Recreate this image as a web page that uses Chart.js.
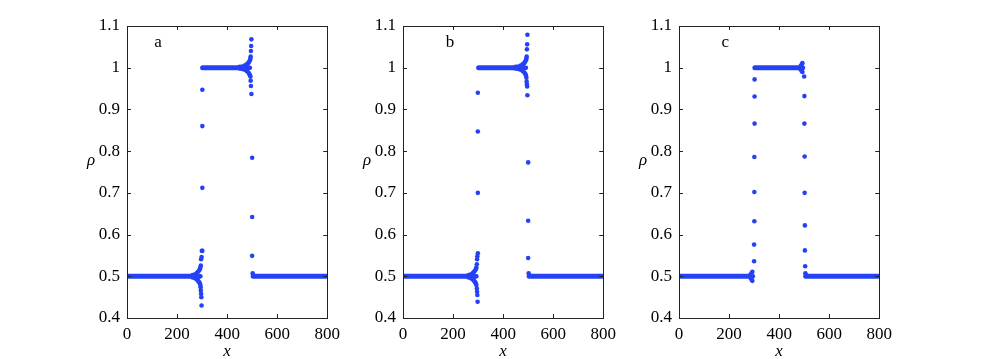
<!DOCTYPE html>
<html>
<head>
<meta charset="utf-8">
<script src="https://cdn.jsdelivr.net/npm/chart.js@4.4.1/dist/chart.umd.min.js"></script>
<style>
  html, body { margin: 0; padding: 0; background: #fff; }
  #wrap { position: relative; width: 981px; height: 359px; overflow: hidden; }
  canvas { position: absolute; top: 0; }
  #preload { position: absolute; left: -999px; font-family: 'Liberation Serif'; font-size: 17px; }
</style>
</head>
<body>
<div id="wrap">
  <canvas id="pa" width="277" height="359" style="left:69px"></canvas>
  <canvas id="pb" width="277" height="359" style="left:345px"></canvas>
  <canvas id="pc" width="277" height="359" style="left:621px"></canvas>
</div>
<div id="preload">0.9 <i>x ρ</i> abc</div>
<script>
// --- dados ---
const xTicks = [0, 200, 400, 600, 800];
const yTicks = [0.4, 0.5, 0.6, 0.7, 0.8, 0.9, 1.0, 1.1];
const panelLetters = ["a", "b", "c"];

// patamares [x inicial, x final, rho]
const aBands = [[0, 286, 0.5], [302, 470, 1.0], [504, 800, 0.5]];
const bBands = [[0, 286, 0.5], [302, 470, 1.0], [504, 800, 0.5]];
const cBands = [[0, 290, 0.5], [303, 492, 1.0], [506, 800, 0.5]];

// pontos soltos (leque, transicoes)
const aX = [262, 272, 279, 284, 288, 291, 293, 262, 272, 279, 284, 288, 291, 293, 286, 290, 293,
  295, 296, 298, 299, 294, 295, 296, 297, 298,
  301, 301, 301, 301,
  450, 460, 470, 478, 484, 488, 491, 450, 460, 470, 478, 484, 488, 491, 482, 487, 491,
  493, 494, 495, 496, 497, 493, 494, 495, 497,
  500, 500, 500, 502];
const aY = [0.503, 0.505, 0.508, 0.511, 0.514, 0.517, 0.521, 0.497, 0.495, 0.492, 0.489, 0.486, 0.483, 0.479, 0.5, 0.5, 0.5,
  0.526, 0.541, 0.546, 0.561, 0.474, 0.466, 0.458, 0.45, 0.43,
  0.947, 0.860, 0.712, 0.561,
  1.002, 1.003, 1.005, 1.008, 1.011, 1.014, 1.018, 0.998, 0.997, 0.995, 0.992, 0.989, 0.986, 0.982, 1.0, 1.0, 1.0,
  1.022, 1.027, 1.040, 1.052, 1.068, 0.979, 0.969, 0.956, 0.937,
  0.784, 0.642, 0.549, 0.507];

const bX = [262, 272, 279, 284, 288, 291, 293, 262, 272, 279, 284, 288, 291, 293, 286, 290, 293,
  295, 296, 297, 299, 295, 296, 297, 298,
  299, 299, 299,
  450, 460, 470, 478, 484, 488, 491, 450, 460, 470, 478, 484, 488, 491, 482, 487, 491,
  493, 494, 495, 496, 497, 493, 494, 495, 496, 497,
  500, 500, 500, 502];
const bY = [0.503, 0.505, 0.508, 0.511, 0.514, 0.517, 0.521, 0.497, 0.495, 0.492, 0.489, 0.486, 0.483, 0.479, 0.5, 0.5, 0.5,
  0.529, 0.541, 0.548, 0.555, 0.471, 0.463, 0.455, 0.439,
  0.940, 0.847, 0.700,
  1.002, 1.003, 1.005, 1.008, 1.011, 1.014, 1.018, 0.998, 0.997, 0.995, 0.992, 0.989, 0.986, 0.982, 1.0, 1.0, 1.0,
  1.022, 1.027, 1.044, 1.056, 1.079, 0.976, 0.967, 0.960, 0.955, 0.934,
  0.773, 0.633, 0.544, 0.507];

const cX = [286, 290, 293, 286, 290, 293, 295,
  300, 300, 301, 301, 301, 302, 302, 302,
  486, 490, 493, 486, 490, 493, 495,
  500, 501, 501, 502, 502, 503, 503, 504, 505];
const cY = [0.504, 0.508, 0.511, 0.496, 0.492, 0.489, 0.5,
  0.536, 0.576, 0.632, 0.702, 0.786, 0.866, 0.931, 0.972,
  1.004, 1.008, 1.011, 0.996, 0.992, 0.99, 1.0,
  0.979, 0.932, 0.866, 0.787, 0.700, 0.622, 0.562, 0.524, 0.507];

const letterX = [124, 188, 185];
const letterY = 1.06;

const blue = "#2541f5";
const serif = "'Liberation Serif', 'Times New Roman', serif";
Chart.defaults.font.family = serif;

function fmt(v) {
  return String(parseFloat(Number(v).toFixed(1)));
}

// caixa estilo MATLAB com ticks para dentro + textos
const boxPlugin = {
  id: "boxPlugin",
  afterDraw(chart, args, opts) {
    const { ctx, chartArea: a, scales } = chart;
    ctx.save();
    ctx.strokeStyle = "#222";
    ctx.lineWidth = 1;
    ctx.strokeRect(Math.round(a.left) + 0.5, Math.round(a.top) + 0.5, Math.round(a.right - a.left), Math.round(a.bottom - a.top));
    const t = 4;
    ctx.beginPath();
    xTicks.forEach(v => {
      const px = Math.round(scales.x.getPixelForValue(v)) + 0.5;
      ctx.moveTo(px, a.bottom); ctx.lineTo(px, a.bottom - t);
      ctx.moveTo(px, a.top); ctx.lineTo(px, a.top + t);
    });
    yTicks.forEach(v => {
      const py = Math.round(scales.y.getPixelForValue(v)) + 0.5;
      ctx.moveTo(a.left, py); ctx.lineTo(a.left + t, py);
      ctx.moveTo(a.right, py); ctx.lineTo(a.right - t, py);
    });
    ctx.stroke();

    ctx.fillStyle = "#000";
    ctx.font = "17px " + serif;
    ctx.textAlign = "center";
    ctx.textBaseline = "middle";
    ctx.fillText(opts.letter, scales.x.getPixelForValue(opts.lx), scales.y.getPixelForValue(letterY));

    ctx.font = "italic 17px " + serif;
    ctx.textBaseline = "alphabetic";
    ctx.fillText("x", (a.left + a.right) / 2, 356);
    ctx.fillText("\u03c1", a.left - 36, 165);
    ctx.restore();
  }
};

function makePanel(id, bands, xs, ys, idx) {
  const datasets = bands.map(b => ({
    type: "line",
    data: [{ x: b[0], y: b[2] }, { x: b[1], y: b[2] }],
    borderColor: blue,
    borderWidth: 5,
    borderCapStyle: "round",
    pointRadius: 0
  }));
  datasets.push({
    type: "scatter",
    data: xs.map((x, i) => ({ x, y: ys[i] })),
    backgroundColor: blue,
    borderWidth: 0,
    pointRadius: 2.3
  });

  new Chart(document.getElementById(id), {
    type: "scatter",
    data: { datasets },
    plugins: [boxPlugin],
    options: {
      responsive: false,
      animation: false,
      layout: { padding: { top: 26, right: 12, left: 0, bottom: 0 } },
      plugins: {
        legend: { display: false },
        tooltip: { enabled: false },
        boxPlugin: { letter: panelLetters[idx], lx: letterX[idx] }
      },
      scales: {
        x: {
          type: "linear",
          min: 0, max: 800,
          grid: { display: false, drawTicks: false },
          border: { display: false },
          afterBuildTicks: s => { s.ticks = xTicks.map(v => ({ value: v })); },
          afterFit: s => { s.height = 41; },
          ticks: { color: "#000", padding: 6, maxRotation: 0, font: { family: serif, size: 17 } }
        },
        y: {
          type: "linear",
          min: 0.4, max: 1.1,
          grid: { display: false, drawTicks: false },
          border: { display: false },
          afterBuildTicks: s => { s.ticks = yTicks.map(v => ({ value: v })); },
          afterFit: s => { s.width = 58; },
          ticks: { color: "#000", padding: 7, callback: v => fmt(v), font: { family: serif, size: 17 } }
        }
      }
    }
  });
}

function draw() {
  makePanel("pa", aBands, aX, aY, 0);
  makePanel("pb", bBands, bX, bY, 1);
  makePanel("pc", cBands, cX, cY, 2);
}

Promise.all([
  document.fonts.load("17px 'Liberation Serif'"),
  document.fonts.load("italic 17px 'Liberation Serif'")
]).then(draw, draw);
</script>
</body>
</html>
